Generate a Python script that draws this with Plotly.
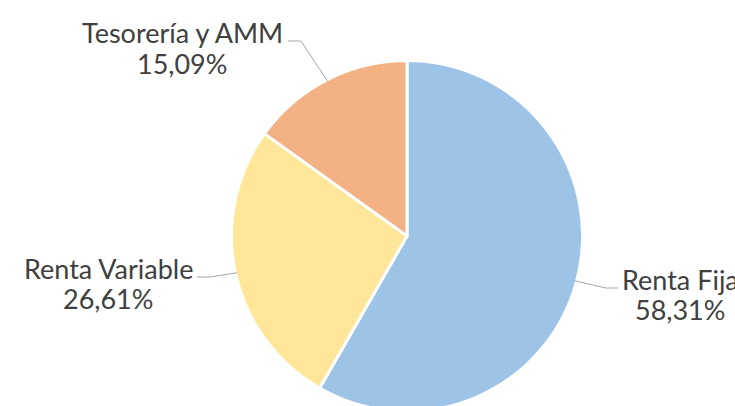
import math
import plotly.graph_objects as go

# Portfolio breakdown (percent)
labels = ["Renta Fija", "Renta Variable", "Tesorería y AMM"]
values = [58.31, 26.61, 15.09]
colors = ["#9DC3E6", "#FFE699", "#F4B183"]

W, H = 735, 412
CX, CY, R = 407, 236, 175.5          # pie centre and radius in pixels
EDGE = 174                           # visible rim radius (after white stroke)
FONT_SIZE = 27
LINE_GAP = 30                        # distance between the two label lines

# label centre x and first-line baseline, in pixels
label_pos = {
    "Renta Fija": (680, 288),
    "Renta Variable": (108, 277),
    "Tesorería y AMM": (182, 42),
}
leader_bends = {
    "Renta Fija": [(606, 288), (618, 288)],
    "Renta Variable": [(210, 277), (197, 277)],
    "Tesorería y AMM": [(301, 41), (288, 41)],
}


def px(x):
    return x / W


def py(y):
    return 1 - y / H


fig = go.Figure(
    go.Pie(
        labels=labels,
        values=values,
        sort=False,
        direction="clockwise",
        rotation=0,
        textinfo="none",
        hoverinfo="label+percent",
        marker=dict(colors=colors, line=dict(color="white", width=3)),
        domain=dict(x=[px(CX - R), px(CX + R)], y=[py(CY + R), py(CY - R)]),
    )
)

total = sum(values)
start = 0.0
shapes = []
annotations = []
font = dict(family="Lato", size=FONT_SIZE, color="#404040")
for lab, val in zip(labels, values):
    mid = (start + val / 2) / total * 2 * math.pi
    start += val
    ex = CX + EDGE * math.sin(mid)
    ey = CY - EDGE * math.cos(mid)
    pts = [(ex, ey)] + leader_bends[lab]
    path = "M " + " L ".join(f"{px(x)},{py(y)}" for x, y in pts)
    shapes.append(
        dict(type="path", xref="paper", yref="paper", path=path,
             line=dict(color="#A6A6A6", width=1))
    )
    lx, base = label_pos[lab]
    txt = f"{val:.2f}".replace(".", ",") + "%"
    for i, line in enumerate([lab, txt]):
        yc = base + i * LINE_GAP - 9
        annotations.append(
            dict(x=px(lx), y=py(yc), xref="paper", yref="paper",
                 text=line, showarrow=False,
                 xanchor="center", yanchor="middle", align="center",
                 font=font)
        )

fig.update_layout(
    width=W, height=H,
    margin=dict(l=0, r=0, t=0, b=0),
    paper_bgcolor="white", plot_bgcolor="white",
    showlegend=False,
    shapes=shapes,
    annotations=annotations,
)

fig.write_html(
    "out.html",
    post_script="document.documentElement.style.overflow='hidden';document.body.style.overflow='hidden';",
)
